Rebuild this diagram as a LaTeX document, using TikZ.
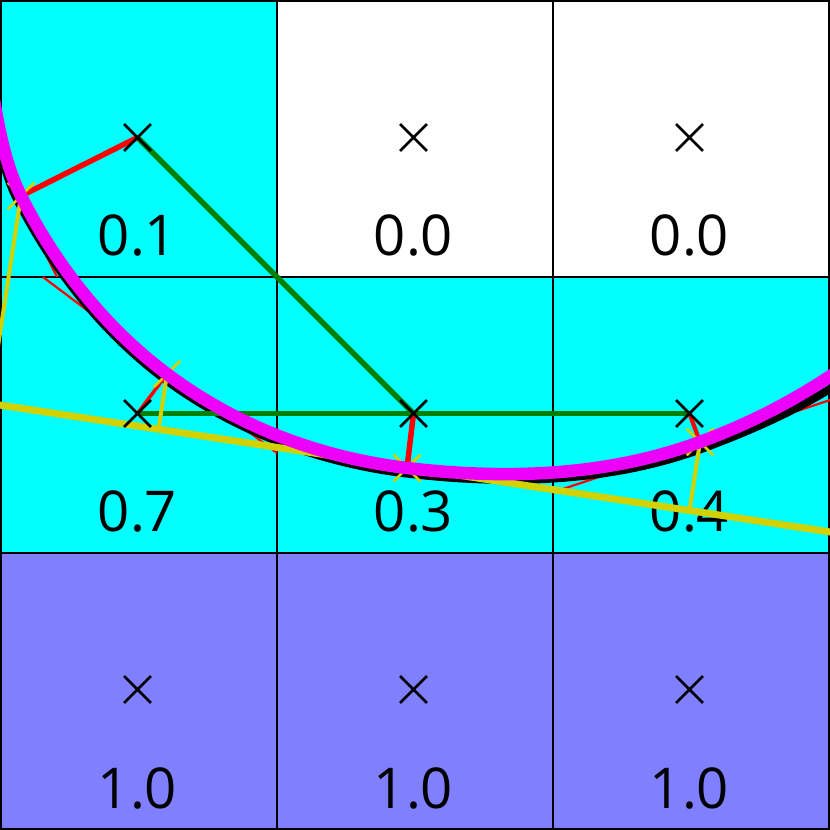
\documentclass[tikz,border=0pt]{standalone}
\usepackage{fontspec}
\setmainfont{Open Sans}
\usetikzlibrary{shapes.misc}
\definecolor{cyanf}{RGB}{0,255,255}
\definecolor{bluef}{RGB}{128,128,255}
\definecolor{ylw}{RGB}{210,210,0}
\definecolor{grn}{RGB}{0,128,0}
\definecolor{mag}{RGB}{236,0,250}
\begin{document}
\begin{tikzpicture}[x=0.01cm,y=-0.01cm,
  gridl/.style={draw=black,line width=0.22mm},
  lbl/.style={anchor=base,inner sep=0pt,font=\fontsize{16}{19}\selectfont},
  xmark/.style={cross out,draw=black,line width=0.28mm,minimum size=0.24cm,inner sep=0pt},
  ymark/.style={cross out,draw=ylw,line width=0.25mm,minimum size=0.24cm,inner sep=0pt},
  greenl/.style={draw=grn,line width=0.55mm},
  redthin/.style={draw=red,line width=0.22mm},
  redthick/.style={draw=red,line width=#1},
  ytan/.style={draw=ylw,line width=0.7mm},
  yperp/.style={draw=ylw,line width=0.4mm},
  curveblack/.style={draw=black,line width=0.8mm},
  curvemag/.style={draw=mag,line width=1.25mm}]
\useasboundingbox (0,0) rectangle (830,830);
\clip (0,0) rectangle (830,830);
% cell fills
\fill[cyanf] (0,0) rectangle (277,277);
\fill[white] (277,0) rectangle (830,277);
\fill[cyanf] (0,277) rectangle (830,553);
\fill[bluef] (0,553) rectangle (830,830);
% grid
\foreach \g in {1,277,553,829} {
  \draw[gridl] (\g,0) -- (\g,830);
  \draw[gridl] (0,\g) -- (830,\g);
}
% labels
\node[lbl] (t11) at (137.5,255) {0.1};
\node[lbl] (t12) at (413.5,255) {0.0};
\node[lbl] (t13) at (689.5,255) {0.0};
\node[lbl] (t21) at (137.5,531.5) {0.7};
\node[lbl] (t22) at (413.5,531.5) {0.3};
\node[lbl] (t23) at (689.5,531.5) {0.4};
\node[lbl] (t31) at (137.5,808) {1.0};
\node[lbl] (t32) at (413.5,808) {1.0};
\node[lbl] (t33) at (689.5,808) {1.0};
% cell centres
\coordinate (c11) at (137.5,137.5);
\coordinate (c12) at (413.5,137.5);
\coordinate (c13) at (689.5,137.5);
\coordinate (c21) at (137.5,413.5);
\coordinate (c22) at (413.5,413.5);
\coordinate (c23) at (689.5,413.5);
\coordinate (c31) at (137.5,689.5);
\coordinate (c32) at (413.5,689.5);
\coordinate (c33) at (689.5,689.5);
% curve end points and foot points
\coordinate (m0) at (-7,95);
\coordinate (f1) at (21,196);
\coordinate (f2) at (167,374);
\coordinate (f3) at (407,468);
\coordinate (f4) at (700,442);
\coordinate (m5) at (852,361);
% thin red interface segments
\coordinate (s1a) at (0,163); \coordinate (s1b) at (57,277);
\coordinate (s2a) at (43,277); \coordinate (s2b) at (277,453);
\coordinate (s3a) at (553,492.3); \coordinate (s3b) at (830,400);
\draw[redthin] (s1a) -- (s1b);
\draw[redthin] (s2a) -- (s2b);
\draw[redthin] (s3a) -- (s3b);
% black curve
\coordinate (b0) at (-9,95.3);
\coordinate (b1) at (16.5,198.2);
\coordinate (b2) at (163.7,378.4);
\coordinate (b3) at (406.4,473.5);
\coordinate (b4) at (702.4,448.6);
\coordinate (b5) at (858.5,369.9);
\draw[curveblack] (b0) .. controls (-2.9,129.8) and (0.8,166.9) .. (b1)
  .. controls (51.3,267.5) and (101.6,331.8) .. (b2)
  .. controls (233.6,430.8) and (319.6,463.2) .. (b3)
  .. controls (505.1,485.2) and (609.2,483.0) .. (b4)
  .. controls (756.8,428.5) and (811.6,404.0) .. (b5);
% green stencil lines
\draw[greenl] (c11) -- (c22);
\draw[greenl] (c21) -- (c23);
% red distance lines
\draw[redthick=0.55mm] (c11) -- (f1);
\draw[redthick=0.35mm] (c21) -- (f2);
\draw[redthick=0.55mm] (c22) -- (f3);
\draw[redthick=0.42mm] (c23) -- (f4);
% yellow tangent and perpendiculars
\coordinate (ta) at (-10,403.5);
\coordinate (tb) at (840,533.5);
\coordinate (p1) at (-10.7,403);
\coordinate (p2) at (158.5,429.3);
\coordinate (p4) at (689.5,510.5);
\draw[ytan] (ta) -- (tb);
\draw[yperp] (f1) -- (p1);
\draw[yperp] (f2) -- (p2);
\draw[yperp] (f4) -- (p4);
\node[ymark] (y1) at (f1) {};
\node[ymark] (y2) at (f2) {};
\node[ymark] (y3) at (f3) {};
\node[ymark] (y4) at (f4) {};
% magenta curve
\draw[curvemag] (m0) .. controls (-0.9,129.5) and (5.3,164.7) .. (f1)
  .. controls (55.8,265.3) and (104.9,327.4) .. (f2)
  .. controls (236.9,426.4) and (320.2,457.7) .. (f3)
  .. controls (505.7,479.7) and (606.8,476.4) .. (f4)
  .. controls (754.4,421.9) and (805.1,395.1) .. (m5);
% cell centre marks
\node[xmark] (x11) at (c11) {};
\node[xmark] (x12) at (c12) {};
\node[xmark] (x13) at (c13) {};
\node[xmark] (x21) at (c21) {};
\node[xmark] (x22) at (c22) {};
\node[xmark] (x23) at (c23) {};
\node[xmark] (x31) at (c31) {};
\node[xmark] (x32) at (c32) {};
\node[xmark] (x33) at (c33) {};
\end{tikzpicture}
\end{document}
